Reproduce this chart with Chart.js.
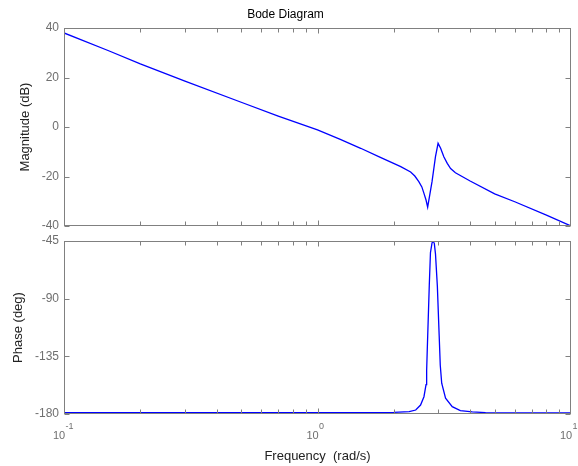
<!DOCTYPE html>
<html>
<head>
<meta charset="utf-8">
<title>Bode Diagram</title>
<script src="https://cdn.jsdelivr.net/npm/chart.js@4.4.1/dist/chart.umd.min.js"></script>
<style>
    html, body { margin: 0; padding: 0; background: #fff; }
    #page { position: relative; width: 578px; height: 466px; background: #fff; }
    .plot { position: absolute; left: 0; width: 578px; }
    #mag-box { top: 0; height: 232px; }
    #phase-box { top: 232px; height: 234px; }
</style>
</head>
<body>
<div id="page">
    <div class="plot" id="mag-box"><canvas id="magChart"></canvas></div>
    <div class="plot" id="phase-box"><canvas id="phaseChart"></canvas></div>
</div>
<script>
// Data
const magFreq = [0.1, 0.15, 0.2, 0.3, 0.5, 0.7, 1, 1.23, 1.48, 1.77, 2.13, 2.33, 2.42, 2.51, 2.58, 2.63, 2.68, 2.72, 2.83, 2.92, 2.99, 3.06, 3.15, 3.25, 3.35, 3.5, 4.0, 5.0, 6.0, 8.0, 10];
const magDb = [38, 30.8, 25.5, 18.5, 10, 4.4, -1.2, -5, -8.6, -12.3, -16, -18.2, -19.8, -22.1, -24.2, -26.8, -29.5, -32.4, -22.1, -12, -6.6, -8.6, -12, -14.7, -16.8, -18.5, -21.8, -27, -30.2, -35.6, -40];

const phaseFreq = [0.1, 1, 2.0, 2.3, 2.44, 2.55, 2.63, 2.68, 2.695, 2.71, 2.73, 2.76, 2.79, 2.83, 2.86, 2.89, 2.92, 2.97, 3.02, 3.05, 3.09, 3.2, 3.4, 3.66, 4.08, 4.6, 10];
const phaseDeg = [-179, -179, -178.8, -178.2, -176.9, -173, -166.5, -157, -146, -130, -110, -80, -54, -46.5, -45, -47, -55, -80, -119, -142, -156, -167.7, -174.3, -177.4, -178.4, -179, -179.2];

// Axes
const magTicks = { min: -40, max: 40, step: 20 };
const phaseTicks = { min: -180, max: -45, step: 45 };
const xTickValues = [0.1, 1, 10];
const xTickExponents = ['-1', '0', '1'];

const FONT = "'Liberation Sans', Arial, sans-serif";
const AXIS_COLOR = '#808080';
const TEXT_COLOR = '#6f6f6f';
const LINE_COLOR = 'rgb(0, 0, 255)';

/**
 * Frame box with inward ticks on all four sides (MATLAB look)
 */
const frameTicks = {
    id: 'frameTicks',
    afterDatasetsDraw(chart, args, opts) {
        const ctx = chart.ctx;
        const area = chart.chartArea;
        const xs = chart.scales.x;
        const ys = chart.scales.y;
        const L = Math.round(area.left) + 0.5;
        const R = Math.round(area.right) - 0.5;
        const T = Math.round(area.top) + 0.5;
        const B = Math.round(area.bottom) - 0.5;

        ctx.save();
        ctx.strokeStyle = AXIS_COLOR;
        ctx.lineWidth = 1;
        ctx.strokeRect(L, T, R - L, B - T);

        ctx.beginPath();
        // x ticks: minor decades plus the 10^0 major
        [0.1, 1].forEach(d => {
            for (let k = 2; k <= 9; k++) {
                const px = Math.round(xs.getPixelForValue(d * k)) + 0.5;
                ctx.moveTo(px, B); ctx.lineTo(px, B - 4);
                ctx.moveTo(px, T); ctx.lineTo(px, T + 4);
            }
        });
        const p1 = Math.round(xs.getPixelForValue(1)) + 0.5;
        ctx.moveTo(p1, B); ctx.lineTo(p1, B - 5);
        ctx.moveTo(p1, T); ctx.lineTo(p1, T + 5);

        // y ticks
        ys.ticks.forEach(t => {
            const py = Math.round(ys.getPixelForValue(t.value)) + 0.5;
            ctx.moveTo(L, py); ctx.lineTo(L + 5, py);
            ctx.moveTo(R, py); ctx.lineTo(R - 5, py);
        });
        ctx.stroke();

        // x tick labels like 10^-1: base sits just left of the tick, exponent raised after it
        if (opts.xLabels) {
            ctx.fillStyle = TEXT_COLOR;
            ctx.textBaseline = 'alphabetic';
            xTickValues.forEach((v, i) => {
                ctx.font = `11px ${FONT}`;
                const baseW = ctx.measureText('10').width;
                const x0 = xs.getPixelForValue(v) - 5 - baseW / 2;
                ctx.fillText('10', x0, area.bottom + 25);
                ctx.font = `9px ${FONT}`;
                ctx.fillText(xTickExponents[i], x0 + baseW + 0.5, area.bottom + 15);
            });
        }
        ctx.restore();
    }
};

function toPoints(xs, ys) {
    return xs.map((x, i) => ({ x: x, y: ys[i] }));
}

function yScale(range, title, titlePad) {
    return {
        min: range.min,
        max: range.max,
        ticks: {
            stepSize: range.step,
            color: TEXT_COLOR,
            font: { family: FONT, size: 12 },
            padding: 5
        },
        grid: { display: false, drawTicks: false },
        border: { display: false },
        title: {
            display: true,
            text: title,
            color: '#222',
            font: { family: FONT, size: 13 },
            padding: { top: titlePad, bottom: 0 }
        },
        // fixed axis box; labels may overflow the plot edges
        afterFit: s => {
            s.width = 64;
            s.paddingTop = 0;
            s.paddingBottom = 0;
        }
    };
}

function lineDataset(points) {
    return {
        data: points,
        borderColor: LINE_COLOR,
        borderWidth: 1.3,
        pointRadius: 0,
        tension: 0,
        fill: false
    };
}

// Magnitude plot
new Chart(document.getElementById('magChart'), {
    type: 'line',
    data: { datasets: [lineDataset(toPoints(magFreq, magDb))] },
    options: {
        responsive: true,
        maintainAspectRatio: false,
        animation: false,
        layout: { padding: { left: 0, right: 7, top: 0, bottom: 6 } },
        plugins: {
            legend: { display: false },
            tooltip: { enabled: false },
            title: {
                display: true,
                text: 'Bode Diagram',
                color: '#000',
                font: { family: FONT, size: 12, weight: 'normal' },
                padding: { top: 7, bottom: 6.6 }
            },
            frameTicks: { xLabels: false }
        },
        scales: {
            x: { type: 'logarithmic', min: 0.1, max: 10, display: false },
            y: yScale(magTicks, 'Magnitude (dB)', 18)
        }
    },
    plugins: [frameTicks]
});

// Phase plot
new Chart(document.getElementById('phaseChart'), {
    type: 'line',
    data: { datasets: [lineDataset(toPoints(phaseFreq, phaseDeg))] },
    options: {
        responsive: true,
        maintainAspectRatio: false,
        animation: false,
        layout: { padding: { left: 0, right: 7, top: 9, bottom: 0 } },
        plugins: {
            legend: { display: false },
            tooltip: { enabled: false },
            frameTicks: { xLabels: true }
        },
        scales: {
            x: {
                type: 'logarithmic',
                min: 0.1,
                max: 10,
                ticks: { display: false },
                grid: { display: false, drawTicks: false },
                border: { display: false },
                title: {
                    display: true,
                    text: 'Frequency  (rad/s)',
                    color: '#222',
                    font: { family: FONT, size: 13 },
                    padding: { top: 0, bottom: 1.5 }
                },
                afterFit: s => { s.height = 52; }
            },
            y: yScale(phaseTicks, 'Phase (deg)', 11)
        }
    },
    plugins: [frameTicks]
});
</script>
</body>
</html>
